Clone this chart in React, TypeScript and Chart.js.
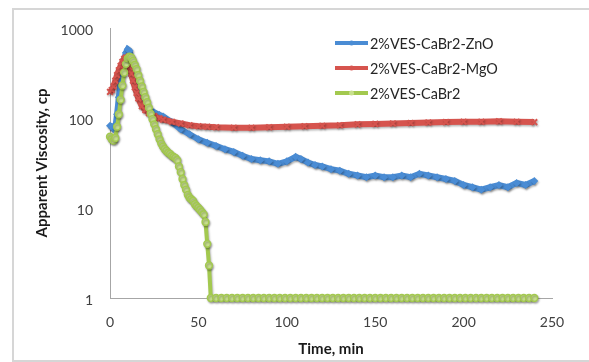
import React, { useEffect, useRef } from "react";
import { Chart, registerables } from "chart.js";

Chart.register(...registerables);

const seriesNames = ["2%VES-CaBr2-ZnO", "2%VES-CaBr2-MgO", "2%VES-CaBr2"];
const xTickValues = [0, 50, 100, 150, 200, 250];
const yTickValues = [1, 10, 100, 1000];

const znoTime = [0, 1, 2, 3, 4, 5, 6, 7, 8, 9, 10, 11, 12, 13, 14, 15, 16, 18, 20, 22, 25, 28, 30,
  35, 40, 45, 50, 55, 60, 65, 70, 75, 80, 85, 90, 95, 100, 105, 108, 112, 116,
  120, 125, 130, 135, 140, 145, 150, 155, 160, 165, 170, 175, 180, 185, 190, 195, 200, 205, 210, 215, 220, 225, 230, 235, 240];
const znoVisc = [82, 80, 76, 78, 110, 170, 260, 360, 450, 530, 580, 560, 470, 380, 300, 240, 200, 160, 140, 125, 115, 108, 104,
  90, 75, 66, 58, 53, 49, 45, 42, 38, 35, 34, 33, 31, 33, 37, 35, 32, 30,
  29, 27, 26, 24, 23, 22, 23, 22, 22, 23, 22, 24, 23, 22, 21, 20, 18, 17, 16, 17, 18, 17, 19, 18, 20];

const mgoTime = [0, 1, 2, 3, 4, 5, 6, 7, 8, 9, 10, 11, 12, 13, 14, 15, 16, 18, 20, 22, 25, 28, 30,
  35, 40, 45, 50, 55, 60, 70, 80, 90, 100, 110, 120, 130, 140, 150, 160, 170, 180, 190, 200, 210, 220, 230, 240];
const mgoVisc = [195, 205, 225, 260, 300, 340, 380, 420, 455, 470, 430, 370, 310, 260, 220, 190, 165, 135, 122, 113, 105, 99, 96,
  91, 87, 83, 81, 80, 79, 78, 78, 79, 80, 81, 82, 83, 85, 86, 87, 88, 89, 90, 91, 91, 92, 91, 90];

const cabrTime = [0, 1, 2, 3, 4, 5, 6, 7, 8, 9, 10, 11, 12, 13, 14, 15, 16, 17, 18, 19, 20, 21, 22, 23, 24, 25, 26, 27, 28, 29,
  30, 31, 32, 33, 34, 35, 36, 37, 38, 39, 40, 41, 42, 43, 44, 45, 46, 47, 48, 49, 50, 51, 52, 53, 54, 55, 56, 57,
  60, 63, 66, 69, 72, 75, 78, 81, 84, 87, 90, 93, 96, 99, 102, 105, 108, 111, 114, 117, 120, 123, 126, 129, 132, 135, 138,
  141, 144, 147, 150, 153, 156, 159, 162, 165, 168, 171, 174, 177, 180, 183, 186, 189, 192, 195, 198, 201, 204, 207, 210,
  213, 216, 219, 222, 225, 228, 231, 234, 237, 240];
const cabrVisc = [62, 58, 56, 60, 80, 110, 160, 230, 320, 400, 460, 480, 470, 430, 390, 350, 300, 260, 225, 195, 170, 150, 130, 112, 97, 85, 75, 66, 58, 52,
  48, 45, 43, 41, 40, 38, 37, 36, 34, 29, 25, 21, 18, 16, 14, 13, 12.5, 12, 11, 10.5, 10, 9.5, 9, 8.5, 7, 4, 2.3, 1,
  1, 1, 1, 1, 1, 1, 1, 1, 1, 1, 1, 1, 1, 1, 1, 1, 1, 1, 1, 1, 1, 1, 1, 1, 1, 1, 1,
  1, 1, 1, 1, 1, 1, 1, 1, 1, 1, 1, 1, 1, 1, 1, 1, 1, 1, 1, 1, 1, 1, 1, 1, 1,
  1, 1, 1, 1, 1, 1, 1, 1, 1, 1];

const BLUE = "#4a8cd4";
const RED = "#d6544e";
const GREEN = "#a3c94f";
const GREEN_FILL = "#c8e08e";
const colors = [BLUE, RED, GREEN];

const toXY = (t: number[], v: number[]) => t.map((x, i) => ({ x, y: v[i] }));

const framePlugin = {
  id: "frame",
  beforeDraw(chart: any) {
    const ctx = chart.ctx;
    ctx.save();
    ctx.fillStyle = "#ffffff";
    ctx.fillRect(0, 0, chart.width, chart.height);
    ctx.strokeStyle = "#d6d6d6";
    ctx.lineWidth = 2;
    ctx.strokeRect(13, 9, 600, 352);
    ctx.restore();
  },
};

const shadowPlugin = {
  id: "lineShadow",
  beforeDatasetDraw(chart: any) {
    const ctx = chart.ctx;
    ctx.save();
    ctx.shadowColor = "rgba(0,0,0,0.28)";
    ctx.shadowBlur = 2;
    ctx.shadowOffsetX = 1;
    ctx.shadowOffsetY = 1.5;
  },
  afterDatasetDraw(chart: any) {
    chart.ctx.restore();
  },
};

const legendPlugin = {
  id: "customLegend",
  afterDraw(chart: any) {
    const ctx = chart.ctx;
    ctx.save();
    seriesNames.forEach((name, i) => {
      const y = 43 + i * 25;
      ctx.strokeStyle = colors[i];
      ctx.lineWidth = 4;
      ctx.beginPath();
      ctx.moveTo(335, y);
      ctx.lineTo(368, y);
      ctx.stroke();
      ctx.fillStyle = i === 2 ? GREEN_FILL : colors[i];
      ctx.beginPath();
      ctx.arc(351.5, y, 2.5, 0, Math.PI * 2);
      ctx.fill();
      ctx.fillStyle = "#262626";
      ctx.font = "14.4px Lato";
      ctx.textBaseline = "middle";
      ctx.textAlign = "left";
      ctx.fillText(name, 370, y + 1);
    });
    ctx.restore();
  },
};

export default function App() {
  const ref = useRef<HTMLCanvasElement>(null);
  useEffect(() => {
    document.body.style.margin = "0";
    Chart.defaults.font.family = "Lato";
    const tickFont = { family: "Lato", size: 14 };
    const titleFont = { family: "Lato", size: 15, weight: "bold" as const };
    const chart = new Chart(ref.current as HTMLCanvasElement, {
      type: "line",
      data: {
        datasets: [
          {
            label: seriesNames[0],
            data: toXY(znoTime, znoVisc),
            borderColor: BLUE,
            backgroundColor: BLUE,
            borderWidth: 6,
            pointStyle: "rectRot",
            pointRadius: 4,
            pointBorderWidth: 0,
            order: 3,
            clip: false as any,
          },
          {
            label: seriesNames[1],
            data: toXY(mgoTime, mgoVisc),
            borderColor: RED,
            backgroundColor: RED,
            borderWidth: 6,
            pointStyle: "crossRot",
            pointRadius: 4,
            pointBorderWidth: 2,
            order: 2,
            clip: false as any,
          },
          {
            label: seriesNames[2],
            data: toXY(cabrTime, cabrVisc),
            borderColor: GREEN,
            backgroundColor: GREEN_FILL,
            borderWidth: 4,
            pointStyle: "circle",
            pointRadius: 3.4,
            pointBorderWidth: 1.5,
            pointBorderColor: GREEN,
            order: 1,
            clip: false as any,
          },
        ],
      },
      options: {
        animation: false,
        responsive: false,
        maintainAspectRatio: false,
        layout: { padding: { left: 12, top: 28, right: 37, bottom: 0 } },
        plugins: { legend: { display: false }, tooltip: { enabled: false } },
        elements: { line: { tension: 0 } },
        scales: {
          x: {
            type: "linear",
            min: 0,
            max: 250,
            afterBuildTicks: (s: any) => {
              s.ticks = xTickValues.map((v) => ({ value: v }));
            },
            afterFit: (s: any) => {
              s.height = 64;
            },
            grid: { display: false, drawTicks: false },
            border: { display: true, color: "#a6a6a6", width: 1 },
            ticks: { font: tickFont, color: "#404040", padding: 16, maxRotation: 0, autoSkip: false },
            title: { display: true, text: "Time, min", font: titleFont, color: "#1a1a1a", padding: { top: 0, bottom: 4 } },
          },
          y: {
            type: "logarithmic",
            min: 1,
            max: 1000,
            afterBuildTicks: (s: any) => {
              s.ticks = yTickValues.map((v) => ({ value: v }));
            },
            afterFit: (s: any) => {
              s.width = 98;
            },
            grid: { display: false, drawTicks: false },
            border: { display: true, color: "#a6a6a6", width: 1 },
            ticks: {
              font: tickFont,
              color: "#404040",
              padding: 17,
              labelOffset: 2,
              autoSkip: false,
              callback: (v: any) => String(v),
            },
            title: { display: true, text: "Apparent Viscosity, cp", font: titleFont, color: "#1a1a1a", padding: { top: 21, bottom: 0 } },
          },
        },
      },
      plugins: [framePlugin, shadowPlugin, legendPlugin],
    });
    return () => chart.destroy();
  }, []);
  return <canvas ref={ref} width={589} height={362} style={{ display: "block" }} />;
}
